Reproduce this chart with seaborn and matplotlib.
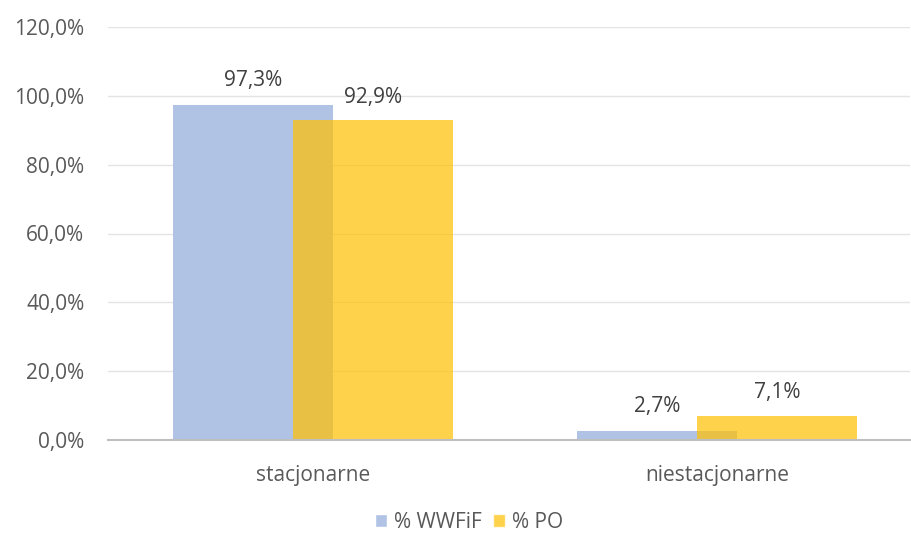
import matplotlib
matplotlib.use('Agg')
import matplotlib.pyplot as plt
import seaborn as sns
import numpy as np
from matplotlib.patches import Patch

categories = ['stacjonarne', 'niestacjonarne']
wwfif = [97.3, 2.7]
po = [92.9, 7.1]
series_names = ['% WWFiF', '% PO']
yticks = [0, 20, 40, 60, 80, 100, 120]

sns.set_theme(style='white')
plt.rcParams['font.family'] = ['Open Sans', 'DejaVu Sans']

blue = '#B0C3E5'
yellow = '#FFC000'
txt = '#595959'
fs = 15

fig = plt.figure(figsize=(9.12, 5.33), dpi=100)
ax = fig.add_axes([108 / 912, 93 / 533, 802 / 912, 413 / 533])

x = np.arange(len(categories))
w = 0.396
off = 0.1485
# overlapping bars like Excel (yellow drawn over blue, semi-transparent)
ax.bar(x - off, wwfif, width=w, color=blue, linewidth=0, zorder=2)
ax.bar(x + off, po, width=w, color=yellow, alpha=0.7, linewidth=0, zorder=3)

for xi, v in zip(x - off, wwfif):
    ax.annotate(f'{v:.1f}%'.replace('.', ','), (xi, v), xytext=(0, 10),
                textcoords='offset points', ha='center', va='bottom',
                fontsize=fs, color='#404040')
for xi, v in zip(x + off, po):
    ax.annotate(f'{v:.1f}%'.replace('.', ','), (xi, v), xytext=(0, 9),
                textcoords='offset points', ha='center', va='bottom',
                fontsize=fs, color='#404040')

ax.set_xlim(-0.507, 1.478)
ax.set_ylim(0, 120)
ax.set_yticks(yticks)
ax.set_yticklabels([f'{t:.1f}%'.replace('.', ',') for t in yticks],
                   fontsize=fs, color=txt)
ax.set_xticks(x)
ax.set_xticklabels(categories, fontsize=fs, color=txt)
ax.tick_params(axis='both', length=0)
ax.tick_params(axis='y', pad=17)
ax.tick_params(axis='x', pad=18)

ax.yaxis.grid(True, color='#E4E4E4', linewidth=1, zorder=0)
ax.set_axisbelow(True)
sns.despine(ax=ax, left=True, right=True, top=True)
ax.spines['bottom'].set_color('#BFBFBF')
ax.spines['bottom'].set_linewidth(1.5)
ax.spines['bottom'].set_zorder(4)

handles = [Patch(facecolor=blue), Patch(facecolor=yellow, alpha=0.7)]
fig.legend(handles, series_names, loc='center',
           bbox_to_anchor=(469 / 912, 11 / 533),
           ncol=2, frameon=False, fontsize=fs, handlelength=0.6,
           handleheight=0.6, handletextpad=0.35, columnspacing=0.5,
           labelcolor=txt)

fig.savefig('out.png', dpi=100)
